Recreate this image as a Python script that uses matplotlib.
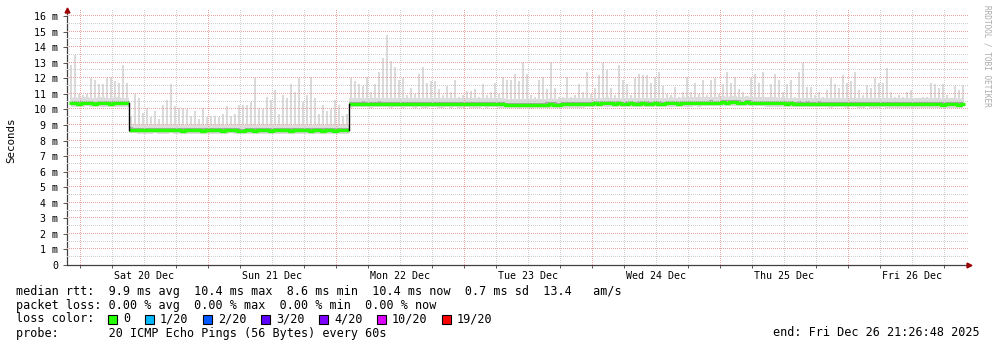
import numpy as np
import matplotlib.pyplot as plt
from matplotlib.patches import Rectangle

# median rtt in ms, one value per 45 min (4 px) from Fri 19 Dec 21:26
median = [
    10.38, 10.40, 10.37, 10.39, 10.41, 10.38, 10.36, 10.39, 10.40, 10.38, 10.37, 10.39, 10.40, 10.38, 10.38, 8.70,
    8.68, 8.66, 8.67, 8.65, 8.66, 8.68, 8.66, 8.65, 8.67, 8.69, 8.66, 8.65, 8.64, 8.66, 8.67, 8.65,
    8.66, 8.64, 8.65, 8.66, 8.67, 8.65, 8.64, 8.66, 8.68, 8.65, 8.64, 8.63, 8.65, 8.66, 8.64, 8.65,
    8.66, 8.65, 8.64, 8.66, 8.65, 8.67, 8.66, 8.64, 8.65, 8.66, 8.67, 8.65, 8.64, 8.66, 8.65, 8.64,
    8.65, 8.66, 8.64, 8.65, 8.66, 8.65, 10.32, 10.36, 10.35, 10.37, 10.36, 10.34, 10.35, 10.37, 10.36, 10.35,
    10.34, 10.36, 10.35, 10.33, 10.35, 10.36, 10.34, 10.35, 10.33, 10.34, 10.35, 10.36, 10.34, 10.33, 10.35, 10.34,
    10.35, 10.34, 10.33, 10.35, 10.34, 10.33, 10.34, 10.35, 10.34, 10.36, 10.35, 10.33, 10.32, 10.30, 10.29, 10.28,
    10.27, 10.28, 10.29, 10.27, 10.28, 10.30, 10.29, 10.31, 10.32, 10.31, 10.30, 10.32, 10.33, 10.32, 10.34, 10.33,
    10.34, 10.35, 10.36, 10.38, 10.37, 10.38, 10.39, 10.38, 10.37, 10.38, 10.36, 10.37, 10.38, 10.36, 10.37, 10.38,
    10.37, 10.36, 10.38, 10.37, 10.36, 10.38, 10.39, 10.38, 10.37, 10.39, 10.40, 10.39, 10.41, 10.40, 10.42, 10.43,
    10.44, 10.42, 10.43, 10.45, 10.44, 10.46, 10.45, 10.44, 10.43, 10.45, 10.44, 10.43, 10.42, 10.41, 10.40, 10.39,
    10.40, 10.38, 10.39, 10.37, 10.38, 10.36, 10.37, 10.36, 10.37, 10.35, 10.36, 10.37, 10.35, 10.36, 10.34, 10.35,
    10.36, 10.35, 10.34, 10.36, 10.35, 10.34, 10.33, 10.35, 10.34, 10.33, 10.34, 10.35, 10.33, 10.34, 10.32, 10.33,
    10.34, 10.33, 10.32, 10.34, 10.33, 10.32, 10.33, 10.34, 10.32, 10.33, 10.31, 10.32, 10.33, 10.32, 10.31, 10.32,
]

# highest ping (top of the smoke) in ms, same slots
smoke_max = [
    12.85, 13.5, 11.0, 10.9, 11.0, 12.0, 11.9, 11.6, 11.6, 12.0, 12.1, 11.8, 11.7, 12.85, 11.7, 9.6,
    11.0, 10.7, 9.8, 10.1, 9.5, 9.9, 9.4, 10.3, 10.6, 11.6, 10.2, 10.1, 10.1, 10.0, 9.6, 9.9,
    9.4, 10.1, 9.5, 9.6, 9.6, 9.5, 9.7, 10.2, 9.6, 9.7, 10.3, 10.3, 10.3, 10.5, 12.0, 10.1,
    10.0, 10.8, 10.6, 11.25, 9.7, 10.9, 10.7, 11.6, 11.1, 12.0, 10.5, 10.9, 12.1, 10.7, 9.7, 10.3,
    9.9, 10.0, 10.6, 10.3, 9.6, 9.7, 12.0, 11.8, 11.6, 11.5, 12.1, 11.1, 11.6, 12.4, 13.3, 14.8,
    13.1, 12.7, 11.9, 12.0, 10.9, 11.4, 11.0, 12.3, 12.7, 11.7, 11.8, 11.8, 11.3, 10.9, 11.5, 11.1,
    11.9, 10.8, 10.9, 11.2, 11.2, 11.3, 10.8, 11.6, 10.9, 11.1, 11.7, 11.0, 12.1, 11.9, 11.9, 12.3,
    11.8, 13.06, 12.3, 10.9, 10.8, 11.9, 12.1, 11.3, 13.06, 11.4, 10.8, 10.8, 12.1, 10.8, 10.9, 11.6,
    11.1, 12.4, 11.0, 11.35, 12.2, 12.95, 12.5, 11.35, 10.9, 12.85, 11.9, 11.6, 10.9, 12.0, 12.3, 12.2,
    12.2, 11.7, 12.1, 12.4, 11.5, 11.0, 10.9, 11.46, 10.8, 11.1, 12.1, 11.1, 11.7, 11.0, 11.9, 10.9,
    11.9, 12.0, 11.0, 11.6, 12.4, 11.7, 12.1, 11.3, 11.1, 10.8, 12.0, 12.3, 11.7, 12.4, 10.8, 11.6,
    12.3, 11.9, 11.1, 11.6, 11.9, 10.8, 12.4, 12.95, 11.46, 11.46, 10.9, 11.1, 10.8, 11.25, 12.0, 11.6,
    11.35, 12.2, 11.7, 11.8, 12.4, 11.25, 10.9, 11.57, 11.35, 12.0, 11.7, 11.7, 12.63, 11.1, 10.8, 10.9,
    10.8, 11.1, 11.25, 10.7, 10.6, 10.8, 10.8, 11.7, 11.6, 11.35, 11.6, 10.9, 10.7, 11.5, 11.25, 11.57,
]

day_labels = ['Sat 20 Dec', 'Sun 21 Dec', 'Mon 22 Dec', 'Tue 23 Dec',
              'Wed 24 Dec', 'Thu 25 Dec', 'Fri 26 Dec']
y_labels = ['0'] + ['%d m' % v for v in range(1, 17)]

rtt_line = 'median rtt:  9.9 ms avg  10.4 ms max  8.6 ms min  10.4 ms now  0.7 ms sd  13.4   am/s'
loss_line = 'packet loss: 0.00 % avg  0.00 % max  0.00 % min  0.00 % now'
probe_line = 'probe:       20 ICMP Echo Pings (56 Bytes) every 60s'
end_line = 'end: Fri Dec 26 21:26:48 2025'
loss_names = ['0', '1/20', '2/20', '3/20', '4/20', '10/20', '19/20']
loss_colors = ['#26ff00', '#00b8ff', '#0059ff', '#5e00ff', '#7e00ff', '#dd00ff', '#ff0000']

W, H = 997, 347
mono = 'DejaVu Sans Mono'

# hours since Sat 20 Dec 00:00, 128 px per day
px_h = 128 / 24
slot = 0.75
start_h = -2.0625
t = start_h + slot * (np.arange(len(median)) + 0.5)
med = np.array(median)
top = np.array(smoke_max)

fig = plt.figure(figsize=(W / 100, H / 100), dpi=100)
x0, x1 = 67, 969
y_top, y_bot = 9.8, 265
ax = fig.add_axes([x0 / W, 1 - y_bot / H, (x1 - x0) / W, (y_bot - y_top) / H])
xmin, xmax = (x0 - 80) / px_h, (x1 - 80) / px_h
ax.set_xlim(xmin, xmax)
ax.set_ylim(0, 16.4)
px_v = 16.4 / (y_bot - y_top)

# smoke
ax.bar(t, top - med, bottom=med, width=slot * 0.5, color='#dadada', lw=0, zorder=1)
ax.fill_between(t, med - 0.22, med + 0.38, step='mid', color='#dcdcdc', lw=0, zorder=1.5)
ax.fill_between(t, med - 0.13, med + 0.14, step='mid', color='#a8a8a8', lw=0, zorder=1.6)

# grid drawn as single pixel dots, one every 2 px
gx = np.arange(xmin, xmax, 2 / px_h)
gy = np.arange(0, 16.4, 2 * px_v)
major_c, minor_c = '#eaa4a4', '#cdcdcd'
for v in np.arange(0.5, 16.01, 0.5):
    major = float(v).is_integer()
    ax.plot(gx, np.full(len(gx), v), ',', color=major_c if major else minor_c, zorder=3)
for h in range(0, 168, 6):
    major = h % 24 == 0
    ax.plot(np.full(len(gy), h), gy, ',', color=major_c if major else minor_c, zorder=3)

# median: green runs, black where it jumps
cuts = np.where(np.abs(np.diff(med)) > 0.5)[0] + 1
for run in np.split(np.arange(len(med)), cuts):
    tr = np.concatenate([[t[run[0]] - slot / 2], t[run], [t[run[-1]] + slot / 2]])
    mr = np.concatenate([[med[run[0]]], med[run], [med[run[-1]]]])
    ax.plot(tr, mr, drawstyle='steps-mid', color='#26ff00', lw=2.4, solid_capstyle='butt', zorder=4)
for j in cuts:
    xm = t[j] - slot / 2
    ax.plot([xm, xm], [med[j - 1], med[j]], color='black', lw=1.0, zorder=5)

# axes
for s in ['top', 'right']:
    ax.spines[s].set_visible(False)
for s in ['left', 'bottom']:
    ax.spines[s].set_color('#404040')
    ax.spines[s].set_linewidth(0.9)
ax.plot([1], [0], marker='>', color='#9b0000', ms=3.5, transform=ax.transAxes, clip_on=False, zorder=6)
ax.plot([0], [1], marker='^', color='#9b0000', ms=3.5, transform=ax.transAxes, clip_on=False, zorder=6)

ax.set_yticks(range(17))
ax.set_yticklabels(y_labels, fontfamily=mono, fontsize=7.2)
ax.set_xticks([12 + 24 * k for k in range(7)])
ax.set_xticklabels(day_labels, fontfamily=mono, fontsize=7.2)
ax.set_xticks(range(0, 168, 6), minor=True)
ax.tick_params(axis='y', length=3, width=0.7, color='#555555', pad=3.5)
ax.tick_params(axis='x', which='major', length=0, pad=4)
ax.tick_params(axis='x', which='minor', length=2, width=0.7, color='#555555')

fig.text(11 / W, 1 - 140 / H, 'Seconds', rotation=90, ha='center', va='center',
         fontfamily=mono, fontsize=7.8)
fig.text(987 / W, 1 - 5 / H, 'RRDTOOL / TOBI OETIKER', rotation=270, ha='center', va='top',
         fontfamily=mono, fontsize=5.6, color='#aaaaaa')

# legend block
fs = 8.5
fig.text(16 / W, 1 - 291 / H, rtt_line, fontfamily=mono, fontsize=fs, va='center')
fig.text(16 / W, 1 - 305 / H, loss_line, fontfamily=mono, fontsize=fs, va='center')
fig.text(16 / W, 1 - 319 / H, 'loss color:', fontfamily=mono, fontsize=fs, va='center')
fig.text(16 / W, 1 - 333 / H, probe_line, fontfamily=mono, fontsize=fs, va='center')
fig.text(980 / W, 1 - 333 / H, end_line, fontfamily=mono, fontsize=fs, va='center', ha='right')
box_x = [108, 145, 203, 261, 319, 377, 442]
for bx, name, col in zip(box_x, loss_names, loss_colors):
    fig.patches.append(Rectangle((bx / W, 1 - 324 / H), 9 / W, 9 / H, transform=fig.transFigure,
                                 facecolor=col, edgecolor='black', lw=0.8))
    fig.text((bx + 15) / W, 1 - 319 / H, name, fontfamily=mono, fontsize=fs, va='center')

fig.savefig('out.png', dpi=100)
